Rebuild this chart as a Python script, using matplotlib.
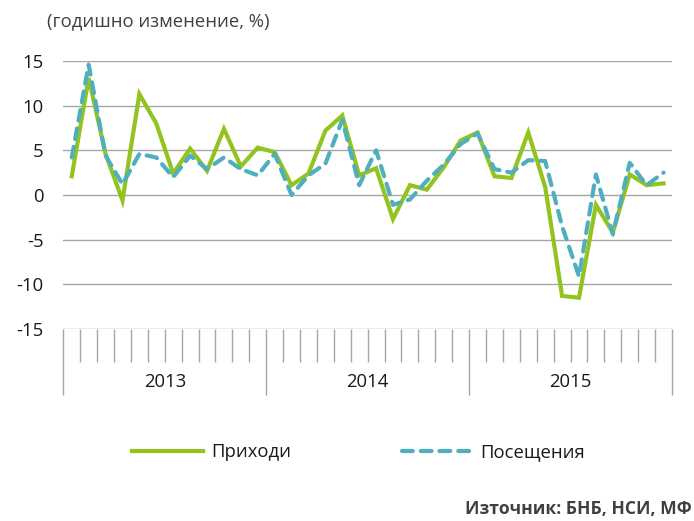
import matplotlib
matplotlib.use("Agg")
import matplotlib.pyplot as plt
import numpy as np
from matplotlib.lines import Line2D

years = ["2013", "2014", "2015"]
months_per_year = 12

# Годишно изменение, %
prihodi = [2.1, 13.1, 4.6, -0.6, 11.3, 8.0, 2.4, 5.2, 2.7, 7.4, 3.2, 5.3,
           4.8, 1.1, 2.4, 7.2, 8.9, 2.2, 3.0, -2.7, 1.1, 0.6, 3.1, 6.1,
           7.0, 2.1, 1.9, 7.0, 0.9, -11.3, -11.5, -1.1, -4.2, 2.3, 1.1, 1.3]
poseshtenia = [4.2, 14.6, 4.4, 1.2, 4.6, 4.2, 2.0, 4.4, 2.9, 4.2, 2.9, 2.2,
               4.6, 0.0, 2.2, 3.5, 8.4, 1.1, 5.0, -1.1, -0.5, 1.6, 3.4, 5.7,
               6.9, 2.9, 2.5, 3.9, 3.8, -3.5, -9.1, 2.3, -4.4, 3.6, 1.1, 2.5]

series_names = ["Приходи", "Посещения"]
yticks = [15, 10, 5, 0, -5, -10, -15]

GREEN = "#92C31E"
BLUE = "#4FAFBF"
GRID = "#A6A6A6"
TXT = "#1a1a1a"
FS = 13.3

plt.rcParams['font.family'] = ['Open Sans', 'DejaVu Sans']

W, H = 694, 521
fig = plt.figure(figsize=(W / 100, H / 100), dpi=100)
left, right, top, bottom = 63.3, 672, 61, 329
ax = fig.add_axes([left / W, 1 - bottom / H, (right - left) / W, (bottom - top) / H])

n = len(prihodi)
x = np.arange(n) + 0.5
ax.plot(x, prihodi, color=GREEN, lw=3.0, solid_joinstyle='miter', zorder=3,
        label=series_names[0])
ax.plot(x, poseshtenia, color=BLUE, lw=3.0, ls=(0, (2.6, 1.9)),
        dash_capstyle='round', zorder=4, label=series_names[1])

ax.set_xlim(0, n)
ax.set_ylim(-15, 15)
for v in yticks:
    ax.axhline(v, color=GRID, lw=1.0, zorder=1)

for s in ax.spines.values():
    s.set_visible(False)

ax.set_yticks(yticks)
ax.set_yticklabels([str(v) for v in yticks])
ax.tick_params(axis='y', length=0, pad=14, labelsize=FS, labelcolor=TXT)

# category axis: month ticks and year separators
ax.set_xticks(np.arange(0, n + 1, months_per_year))
ax.set_xticks(np.arange(0, n + 1), minor=True)
ax.set_xticklabels([])
px = 100 / 72
ax.tick_params(axis='x', which='major', length=66 / px, width=1.0, color=GRID)
ax.tick_params(axis='x', which='minor', length=33 / px, width=1.0, color=GRID)

for i, yr in enumerate(years):
    ax.text(i * months_per_year + months_per_year / 2, -53 / (bottom - top), yr,
            transform=ax.get_xaxis_transform(), ha='center', va='center',
            fontsize=FS, color=TXT)

fig.text(47 / W, 1 - 21 / H, "(годишно изменение, %)", ha='left', va='center',
         fontsize=FS, color="#404040")

# legend
h1 = Line2D([], [], color=GREEN, lw=3.0)
h2 = Line2D([], [], color=BLUE, lw=3.0, ls=(0, (2.6, 1.9)), dash_capstyle='round')
fig.legend([h1, h2], series_names, loc='center', bbox_to_anchor=(0.517, 1 - 452 / H),
           ncol=2, frameon=False, fontsize=FS, handlelength=3.8,
           columnspacing=6.0, handletextpad=0.45, labelcolor=TXT)

fig.text(692 / W, 1 - 509 / H, "Източник: БНБ, НСИ, МФ", ha='right', va='center',
         fontsize=12.6, fontweight='bold', color="#404040")

fig.savefig("out.png", dpi=100)
